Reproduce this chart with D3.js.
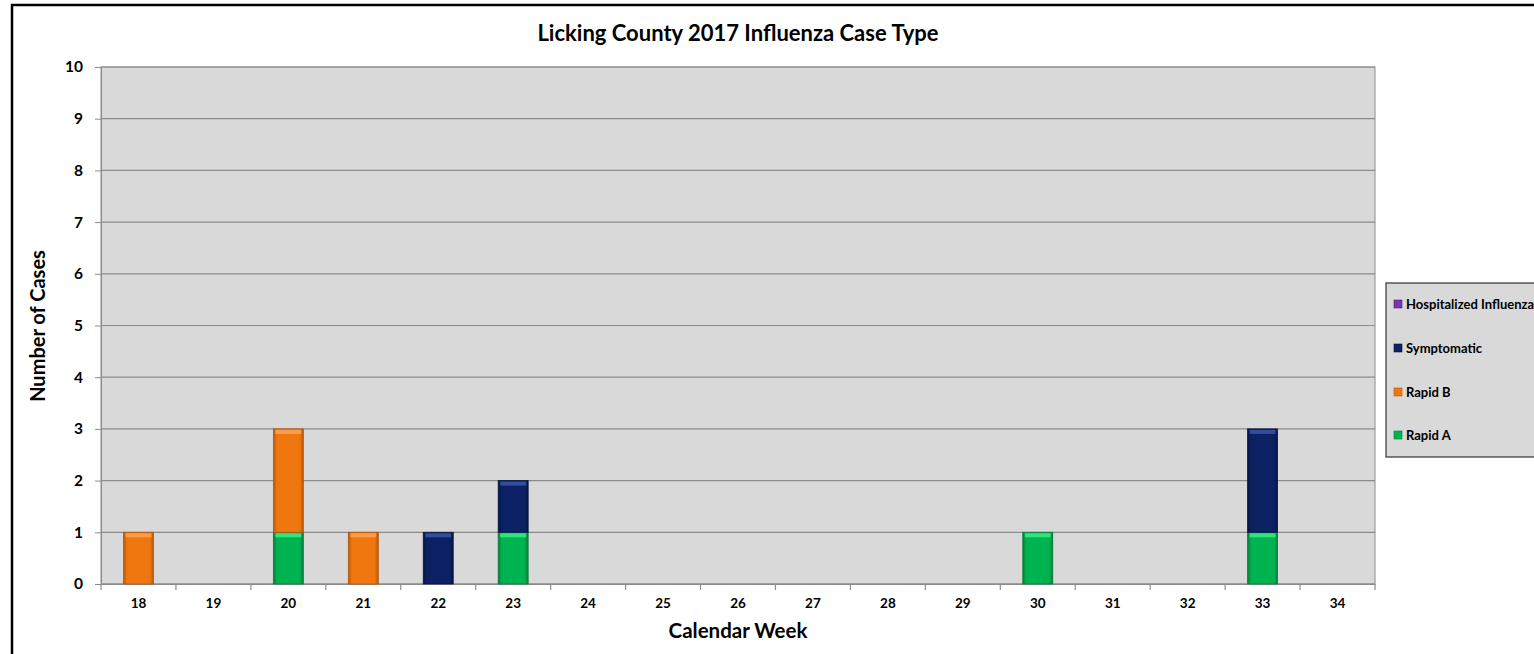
<!DOCTYPE html>
<html><head><meta charset="utf-8">
<script src="https://d3js.org/d3.v7.min.js"></script>
<style>body{margin:0;background:#fff;} svg{display:block;font-family:Lato,"Open Sans",sans-serif;}</style>
</head><body>
<svg id="c" width="1534" height="654"></svg>
<script>
const weeks = ["18","19","20","21","22","23","24","25","26","27","28","29","30","31","32","33","34"];
const rapidA = [0,0,1,0,0,1,0,0,0,0,0,0,1,0,0,1,0];
const rapidB = [1,0,2,1,0,0,0,0,0,0,0,0,0,0,0,0,0];
const symptomatic = [0,0,0,0,1,1,0,0,0,0,0,0,0,0,0,2,0];
const hospitalized = [0,0,0,0,0,0,0,0,0,0,0,0,0,0,0,0,0];
const yTicks = [0,1,2,3,4,5,6,7,8,9,10];
const seriesNames = ["Rapid A","Rapid B","Symptomatic","Hospitalized Influenza"];
const seriesColors = ["#00B351","#F0760F","#0B2163","#7A35B0"];
const seriesStroke = ["#0A7A3A","#B55708","#061440","#4D1F75"];
const seriesLight = ["#3EF08A","#FFA65A","#3D5AA8","#B070E0"];

const FONT = "Lato, 'Open Sans', sans-serif";
const svg = d3.select("#c");
const L=101, R=1375, T=67, B=584;
svg.append("rect").attr("x",12).attr("y",5).attr("width",1600).attr("height",700)
  .attr("fill","#fff").attr("stroke","#000").attr("stroke-width",2.5);

const x = d3.scaleBand().domain(weeks).range([L,R]).paddingInner(0.6).paddingOuter(0.3);
const xb = d3.scaleBand().domain(weeks).range([L,R]);
const y = d3.scaleLinear().domain([0,10]).range([B,T]);

svg.append("rect").attr("x",L).attr("y",T).attr("width",R-L).attr("height",B-T)
  .attr("fill","#D9D9D9").attr("stroke","#8C8C8C").attr("stroke-width",1);

svg.append("g").selectAll("line").data(yTicks).join("line")
  .attr("x1",L).attr("x2",R).attr("y1",d=>y(d)).attr("y2",d=>y(d))
  .attr("stroke","#8C8C8C").attr("stroke-width",1.2);

const ya = svg.append("g").attr("transform",`translate(${L},0)`)
  .call(d3.axisLeft(y).tickValues(yTicks).tickSize(6).tickPadding(12).tickFormat(d3.format("d")));
ya.attr("font-family",FONT);
ya.select(".domain").attr("stroke","#8C8C8C");
ya.selectAll(".tick line").attr("stroke","#8C8C8C");
ya.selectAll("text").attr("font-size",15.5).attr("font-weight","bold").attr("fill","#000");

const xa = svg.append("g").attr("transform",`translate(0,${B})`)
  .call(d3.axisBottom(xb).tickSize(0).tickPadding(14));
xa.attr("font-family",FONT);
xa.select(".domain").attr("stroke","#8C8C8C");
xa.selectAll("text").attr("font-size",13.5).attr("font-weight","bold").attr("fill","#000");
const bounds = weeks.map(w=>xb(w)).concat([R]);
svg.append("g").selectAll("line").data(bounds).join("line")
  .attr("x1",d=>d).attr("x2",d=>d).attr("y1",B).attr("y2",B+6)
  .attr("stroke","#8C8C8C").attr("stroke-width",1.2);

const rows = weeks.map((w,i)=>({week:w,"Rapid A":rapidA[i],"Rapid B":rapidB[i],"Symptomatic":symptomatic[i],"Hospitalized Influenza":hospitalized[i]}));
const stack = d3.stack().keys(seriesNames)(rows);
const defs = svg.append("defs");
seriesNames.forEach((s,i)=>{
  const g = defs.append("linearGradient").attr("id","g"+i).attr("x1",0).attr("x2",1).attr("y1",0).attr("y2",0);
  g.append("stop").attr("offset","0%").attr("stop-color",seriesStroke[i]);
  g.append("stop").attr("offset","12%").attr("stop-color",seriesColors[i]);
  g.append("stop").attr("offset","88%").attr("stop-color",seriesColors[i]);
  g.append("stop").attr("offset","100%").attr("stop-color",seriesStroke[i]);
});
stack.forEach((layer,i)=>{
  const g = svg.append("g");
  const segs = layer.filter(d=>d[1]-d[0]>0);
  g.selectAll("rect.bar").data(segs).join("rect").attr("class","bar")
    .attr("x",d=>x(d.data.week)).attr("width",x.bandwidth())
    .attr("y",d=>y(d[1])).attr("height",d=>y(d[0])-y(d[1]))
    .attr("fill",`url(#g${i})`).attr("stroke",seriesStroke[i]).attr("stroke-width",0.8);
  g.selectAll("rect.hl").data(segs).join("rect").attr("class","hl")
    .attr("x",d=>x(d.data.week)+2).attr("width",x.bandwidth()-4)
    .attr("y",d=>y(d[1])+1).attr("height",4)
    .attr("fill",seriesLight[i]).attr("opacity",0.8);
});

svg.append("text").attr("x",738).attr("y",41).attr("text-anchor","middle")
  .attr("font-size",22).attr("font-weight","bold").text("Licking County 2017 Influenza Case Type");
svg.append("text").attr("x",738).attr("y",638).attr("text-anchor","middle")
  .attr("font-size",20.5).attr("font-weight","bold").text("Calendar Week");
svg.append("text").attr("transform","translate(45,326) rotate(-90)").attr("text-anchor","middle")
  .attr("font-size",20).attr("font-weight","bold").text("Number of Cases");

svg.append("rect").attr("x",1386).attr("y",283).attr("width",200).attr("height",174)
  .attr("fill","#D9D9D9").attr("stroke","#333").attr("stroke-width",1.2);
const legOrder = [3,2,1,0];
const legY = [304,348,392,435];
legOrder.forEach((si,k)=>{
  svg.append("rect").attr("x",1394).attr("y",legY[k]-4).attr("width",8).attr("height",8)
    .attr("fill",seriesColors[si]).attr("stroke",seriesStroke[si]).attr("stroke-width",0.6);
  svg.append("text").attr("x",1406).attr("y",legY[k]+4.5).attr("font-size",13).attr("font-weight","bold")
    .text(seriesNames[si]);
});
</script>
</body></html>
